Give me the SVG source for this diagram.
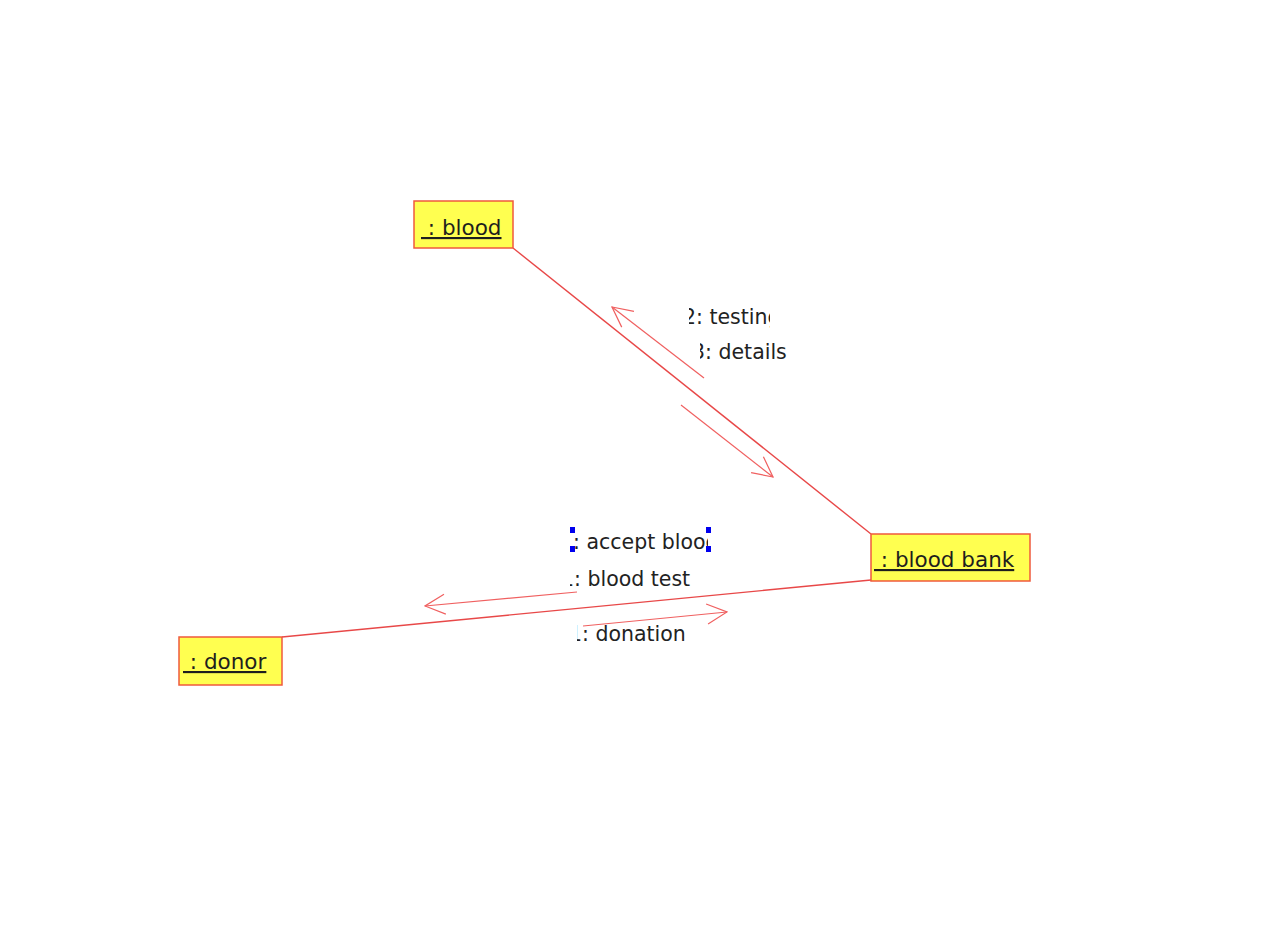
<svg xmlns="http://www.w3.org/2000/svg" width="1270" height="944" viewBox="0 0 1270 944">
<style>
.box{fill:#ffff50;stroke:#f05a3c;stroke-width:1.5}
.name{font-family:"DejaVu Sans",sans-serif;font-size:21.5px;fill:#1e1e1e;text-decoration:underline;white-space:pre}
.lbl{font-family:"DejaVu Sans",sans-serif;font-size:20.5px;fill:#222}
.link{stroke:#e84848;stroke-width:1.4;fill:none}
.msg{stroke:#f06060;stroke-width:1.2;fill:none}
.h{fill:#0000ee}
</style>
<defs>
<marker id="open" viewBox="0 0 22 22" refX="21" refY="11" markerWidth="22" markerHeight="22" markerUnits="userSpaceOnUse" orient="auto">
<path d="M1,1 L21,11 L1,21" fill="none" stroke="#f06060" stroke-width="1.2"/>
</marker>
<clipPath id="c1"><rect x="689" y="300" width="81" height="30"/></clipPath>
<clipPath id="c2"><rect x="700" y="335" width="100" height="30"/></clipPath>
<clipPath id="c3"><rect x="574" y="525" width="134" height="30"/></clipPath>
<clipPath id="c4"><rect x="570" y="565" width="140" height="30"/></clipPath>
<clipPath id="c5"><rect x="577" y="620" width="140" height="30"/></clipPath>
</defs>
<rect width="1270" height="944" fill="#fff"/>
<g id="connectors">
<line class="link" x1="513" y1="248" x2="871" y2="534"/>
<line class="link" x1="282" y1="637" x2="871" y2="580"/>
<line class="msg" x1="704" y1="378" x2="612" y2="307" marker-end="url(#open)"/>
<line class="msg" x1="681" y1="405" x2="773" y2="477" marker-end="url(#open)"/>
<line class="msg" x1="577" y1="592" x2="425" y2="606" marker-end="url(#open)"/>
<line class="msg" x1="583" y1="626" x2="727" y2="612" marker-end="url(#open)"/>
<g id="labels">
<text class="lbl" x="683" y="324" clip-path="url(#c1)">2: testing</text>
<text class="lbl" x="692" y="359" clip-path="url(#c2)">3: details</text>
<text class="lbl" x="560" y="549" clip-path="url(#c3)">1: accept blood</text>
<text class="lbl" x="561" y="586" clip-path="url(#c4)">1: blood test</text>
<text class="lbl" x="569" y="641" clip-path="url(#c5)">1: donation</text>
<rect class="h" x="570" y="527" width="5" height="6"/>
<rect class="h" x="570" y="546" width="5" height="6"/>
<rect class="h" x="706" y="527" width="5" height="6"/>
<rect class="h" x="706" y="546" width="5" height="6"/>
</g>
</g>
<g id="blood">
<rect class="box" x="414" y="201" width="99" height="47"/>
<text class="name" x="421" y="235"> : blood</text>
</g>
<g id="bloodbank">
<rect class="box" x="871" y="534" width="159" height="47"/>
<text class="name" x="874" y="567"> : blood bank</text>
</g>
<g id="donor">
<rect class="box" x="179" y="637" width="103" height="48"/>
<text class="name" x="183" y="669"> : donor</text>
</g>
</svg>
